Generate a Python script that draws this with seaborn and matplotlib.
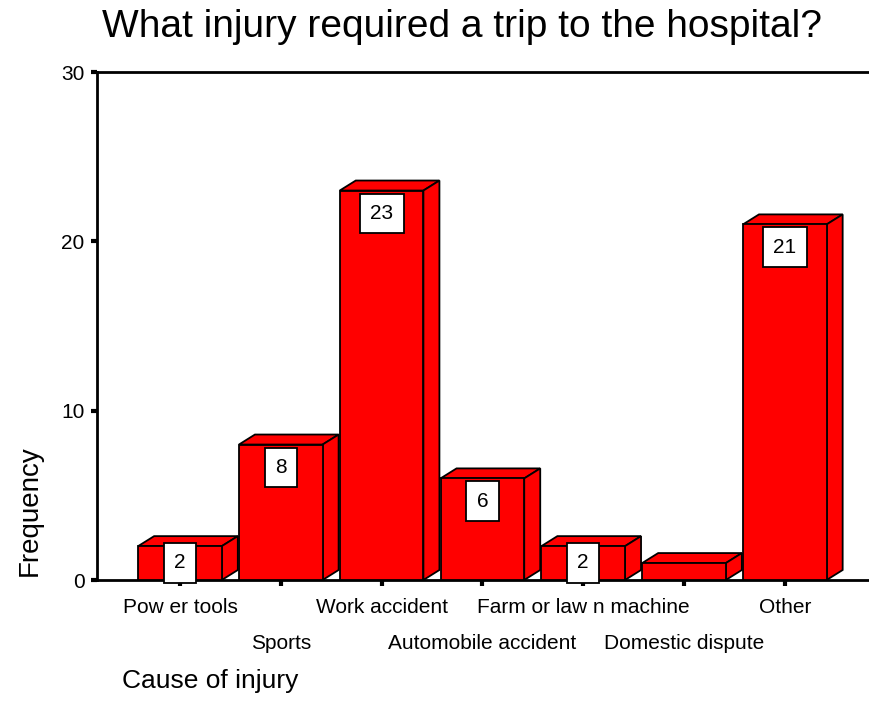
import matplotlib
matplotlib.use("Agg")
import matplotlib.pyplot as plt
from matplotlib import font_manager
from matplotlib.patches import Polygon
import seaborn as sns
import pandas as pd

categories = ["Pow er tools", "Sports", "Work accident", "Automobile accident",
              "Farm or law n machine", "Domestic dispute", "Other"]
frequencies = [2, 8, 23, 6, 2, 1, 21]
shown_labels = ["2", "8", "23", "6", "2", "", "21"]
y_ticks = [0, 10, 20, 30]

sns.set_theme(style="white")
avail = {f.name for f in font_manager.fontManager.ttflist}
base = "Liberation Sans" if "Liberation Sans" in avail else "DejaVu Sans"
plt.rcParams["font.family"] = [base, "DejaVu Sans"]
plt.rcParams["text.color"] = "black"
plt.rcParams["axes.labelcolor"] = "black"

W, H = 870, 723
fig = plt.figure(figsize=(W / 100, H / 100), dpi=100)
ax = fig.add_axes([97 / W, 1 - 580 / H, (869 - 97) / W, (580 - 72) / H])

df = pd.DataFrame({"cat": categories, "freq": frequencies})
sns.barplot(data=df, x="cat", y="freq", color="#ff0000", saturation=1,
            width=0.83, edgecolor="black", linewidth=1.3, ax=ax, zorder=3)

ax.set_xlim(-0.823, 6.835)
ax.set_ylim(0, 30)

# pixel -> data conversions for the 3D depth
px_x = 1 / 100.8
px_y = 30 / 508
dx, dy = 16 * px_x, 10 * px_y
for p in ax.patches[:len(categories)]:
    l = p.get_x(); r = l + p.get_width(); v = p.get_height()
    top = Polygon([(l, v), (l + dx, v + dy), (r + dx, v + dy), (r, v)],
                  closed=True, facecolor="#ff0000", edgecolor="black",
                  linewidth=1.3, zorder=2)
    side = Polygon([(r, 0), (r + dx, dy), (r + dx, v + dy), (r, v)],
                   closed=True, facecolor="#ff0000", edgecolor="black",
                   linewidth=1.3, zorder=2)
    ax.add_patch(top); ax.add_patch(side)

for i, (v, lab) in enumerate(zip(frequencies, shown_labels)):
    if not lab:
        continue
    yy = max(v - 23 * px_y, 17 * px_y)
    ax.text(i, yy, lab, ha="center", va="center", fontsize=15, color="black",
            zorder=5,
            bbox=dict(boxstyle="square,pad=0.5", facecolor="white",
                      edgecolor="black", linewidth=1.3))

ax.set_yticks(y_ticks)
ax.set_yticklabels([str(t) for t in y_ticks], fontsize=15)
ax.set_xticks(range(len(categories)))
ax.set_xticklabels(categories, fontsize=15)
ax.set_xlabel(""); ax.set_ylabel("")
ax.tick_params(axis="both", direction="out", length=4, width=3, colors="black",
               labelcolor="black", bottom=True, left=True)
ax.tick_params(axis="y", pad=5)
for i, t in enumerate(ax.xaxis.get_major_ticks()):
    t.set_pad(9 if i % 2 == 0 else 35)

for s in ["left", "bottom", "top"]:
    ax.spines[s].set_visible(True)
    ax.spines[s].set_color("black")
    ax.spines[s].set_linewidth(2)
ax.spines["right"].set_visible(False)
ax.set_facecolor("white")
ax.grid(False)

fig.text(462 / W, 1 - 37 / H, "What injury required a trip to the hospital?",
         ha="center", va="baseline", fontsize=28, color="black")
fig.text(30 / W, 1 - 511 / H, "Frequency", rotation=90, ha="center",
         va="center", fontsize=20, color="black")
fig.text(122 / W, 1 - 681 / H, "Cause of injury", ha="left", va="center",
         fontsize=19, color="black")

fig.savefig("out.png", dpi=100, facecolor="white")
